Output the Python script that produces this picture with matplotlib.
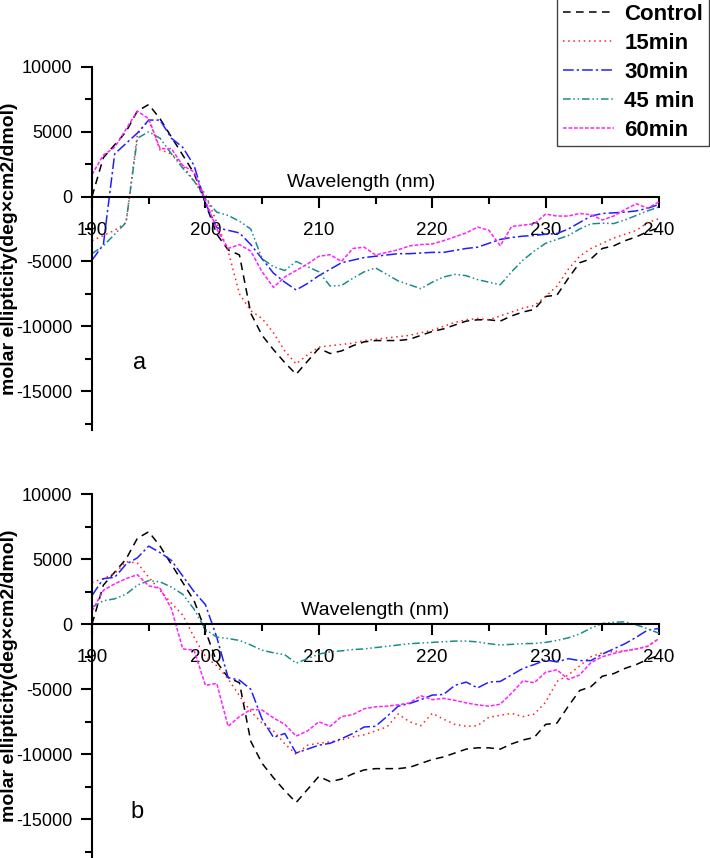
import matplotlib
matplotlib.use("Agg")
import matplotlib.pyplot as plt
import numpy as np
from matplotlib.ticker import MultipleLocator

plt.rcParams['font.family'] = ['Liberation Sans', 'DejaVu Sans']
plt.rcParams['axes.unicode_minus'] = False

wavelength = np.arange(190, 241)

# panel a
control = [0, 3000, 4000, 5000, 6600, 7100, 6000, 4600, 3200, 1800,
           -500, -2900, -4100, -4500, -9000, -10700, -11800, -12800, -13700, -12700,
           -11700, -12100, -11900, -11500, -11200, -11100, -11100, -11100, -11000, -10700,
           -10400, -10200, -9900, -9600, -9500, -9500, -9600, -9200, -8900, -8700,
           -7700, -7600, -6300, -5100, -4800, -4000, -3800, -3400, -3100, -2700, -2400]
a_15 = [-3400, -3000, -2600, -2000, 4800, 5900, 3600, 3300, 2400, 1200,
        200, -2000, -4200, -7500, -8800, -9400, -10500, -11900, -12900, -12200,
        -11600, -11500, -11400, -11300, -11100, -11000, -10900, -10800, -10700, -10500,
        -10300, -10000, -9700, -9500, -9400, -9500, -9200, -8900, -8600, -8400,
        -7700, -6900, -5600, -4600, -4000, -3600, -3200, -2900, -2600, -2000, -1700]
a_30 = [-4900, -3700, 3300, 4100, 4900, 5900, 5900, 4500, 3800, 2400,
        -500, -2400, -2600, -2800, -3700, -4800, -5900, -6600, -7200, -6700,
        -6100, -5600, -5100, -4900, -4700, -4600, -4500, -4400, -4400, -4350,
        -4300, -4300, -4150, -4000, -3900, -3600, -3300, -3150, -3050, -3000,
        -2900, -2850, -2500, -2000, -1500, -1300, -1250, -1200, -1100, -900, -600]
a_45 = [-4400, -3800, -2900, -2000, 4500, 5000, 4500, 3300, 2200, 1200,
        -200, -1200, -1450, -1900, -2500, -4800, -5400, -5700, -5000, -5400,
        -5800, -6900, -6850, -6300, -5800, -5500, -6000, -6500, -6800, -7100,
        -6600, -6200, -6000, -6100, -6400, -6600, -6800, -5800, -4900, -4200,
        -3600, -3300, -3000, -2500, -2100, -2050, -2080, -1800, -1450, -1100, -800]
a_60 = [1700, 3200, 3800, 5200, 6600, 6000, 3700, 3700, 2400, 1900,
        -300, -2500, -4000, -3700, -4200, -5800, -7000, -6200, -5700, -5200,
        -4600, -4480, -5000, -4000, -3900, -4500, -4300, -4100, -3800, -3700,
        -3650, -3400, -3100, -2800, -2350, -2600, -3800, -2300, -2200, -2100,
        -1350, -1500, -1500, -1300, -1400, -1800, -1500, -1000, -550, -900, -400]

# panel b
b_15 = [3200, 3500, 3900, 4800, 4700, 3600, 2600, 1600, 700, -1000,
        -2500, -3200, -4200, -5500, -6700, -7600, -8200, -9200, -10000, -9300,
        -9150, -9050, -8900, -8650, -8500, -8200, -7900, -6900, -7500, -7800,
        -6850, -7300, -7700, -7850, -7800, -7150, -7000, -6850, -7100, -6900,
        -6000, -4400, -3900, -3200, -2500, -2200, -2100, -2050, -1900, -1700, -1100]
b_30 = [2200, 3500, 3600, 4600, 5100, 6000, 5500, 4900, 3700, 2500,
        1500, -1000, -4100, -4300, -5000, -7300, -8700, -8400, -9900, -9600,
        -9300, -9150, -8800, -8400, -7900, -7850, -7100, -6300, -6100, -5800,
        -5450, -5400, -4700, -4450, -4900, -4450, -4400, -3900, -3400, -3100,
        -2750, -2900, -2650, -2800, -2800, -2300, -1900, -1500, -1000, -450, -330]
b_45 = [1300, 1800, 1950, 2300, 3000, 3350, 3250, 2850, 2300, 1150,
        -400, -1000, -1100, -1250, -1600, -2000, -2200, -2350, -3000, -2650,
        -2300, -2120, -2050, -1950, -1900, -1800, -1700, -1600, -1500, -1450,
        -1400, -1350, -1300, -1300, -1360, -1500, -1600, -1550, -1500, -1480,
        -1400, -1250, -1050, -750, -300, 50, 150, 180, -50, -350, -700]
b_60 = [1000, 2600, 3100, 3500, 3800, 2950, 2750, 1200, -1900, -2000,
        -4700, -4550, -7850, -7100, -6550, -6600, -7200, -7700, -8600, -8200,
        -7500, -7850, -7100, -6950, -6500, -6350, -6300, -6200, -6050, -5500,
        -5800, -5700, -5850, -6050, -6200, -6300, -6150, -5300, -4350, -4500,
        -3700, -3500, -4250, -3900, -2950, -2500, -2250, -2050, -1900, -1700, -1100]

labels = ['Control', '15min', '30min', '45 min', '60min']
colors = ['black', '#ff2020', '#2020ff', '#1a8c8c', '#ff20ff']
dashes = [(5, 3.5), (1, 2.4), (7, 2, 1.5, 2), (5, 1.8, 1, 1.8, 1, 1.8), (2.4, 1.2)]

fig = plt.figure(figsize=(7.1, 8.58), dpi=100)
ax_a = fig.add_axes([0.1296, 0.4988, 0.7986, 0.4232])
ax_b = fig.add_axes([0.1296, -0.0005, 0.7986, 0.4247])


def style_axes(ax, letter, letter_xy, label_x):
    ax.set_xlim(190, 240)
    ax.set_ylim(-18000, 10000)
    ax.spines['top'].set_visible(False)
    ax.spines['right'].set_visible(False)
    ax.spines['bottom'].set_position(('data', 0))
    ax.spines['left'].set_linewidth(1.5)
    ax.spines['bottom'].set_linewidth(1.5)
    ax.xaxis.set_major_locator(MultipleLocator(10))
    ax.xaxis.set_minor_locator(MultipleLocator(5))
    ax.yaxis.set_major_locator(MultipleLocator(5000))
    ax.yaxis.set_minor_locator(MultipleLocator(2500))
    ax.set_yticks([10000, 5000, 0, -5000, -10000, -15000])
    ax.tick_params(which='major', direction='out', length=8, width=1.5,
                   labelsize=13, pad=6)
    ax.tick_params(which='minor', direction='out', length=5, width=1.5)
    ax.tick_params(axis='x', which='major', pad=10, labelsize=13.5)
    ax.set_ylabel('molar ellipticity(deg×cm2/dmol)', fontsize=14,
                  fontweight='bold')
    ax.yaxis.set_label_coords(-0.131, 0.5)
    ax.annotate('Wavelength (nm)', xy=(label_x, 0), xytext=(0, 4),
                textcoords='offset points', ha='center', va='bottom',
                fontsize=14)
    ax.text(letter_xy[0], letter_xy[1], letter, fontsize=17, ha='center',
            va='baseline')
    ax.patch.set_alpha(0)


lines = []
for vals, c, d, lab in zip([control, a_15, a_30, a_45, a_60], colors, dashes, labels):
    ln, = ax_a.plot(wavelength, vals, color=c, lw=1.1, dashes=d, label=lab)
    lines.append(ln)
for vals, c, d in zip([control, b_15, b_30, b_45, b_60], colors, dashes):
    ax_b.plot(wavelength, vals, color=c, lw=1.1, dashes=d)

style_axes(ax_a, 'a', (194.2, -13300), 213.7)
style_axes(ax_b, 'b', (194.0, -14900), 215.0)

leg = fig.legend(handles=lines, loc='upper right', bbox_to_anchor=(0.998, 1.002),
                 prop={'weight': 'bold', 'size': 16}, frameon=True, fancybox=False,
                 edgecolor='#444444', framealpha=1, handlelength=2.3,
                 handletextpad=0.45, labelspacing=0.36, borderpad=0.25,
                 borderaxespad=0)
leg.get_frame().set_linewidth(1.0)

fig.savefig('out.png', dpi=100)
